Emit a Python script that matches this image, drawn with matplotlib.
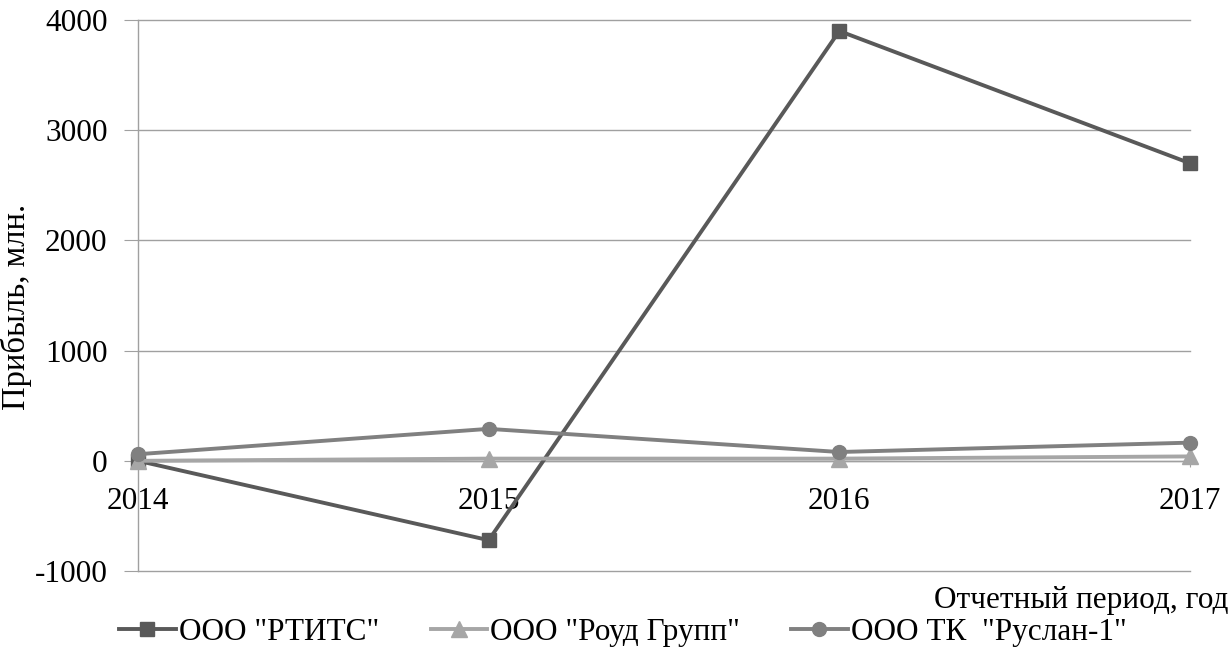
import matplotlib
matplotlib.use("Agg")
import matplotlib.pyplot as plt

# данные
years = [2014, 2015, 2016, 2017]
rtits = [0, -720, 3900, 2700]
road_group = [0, 20, 20, 40]
ruslan = [60, 290, 80, 165]
yticks = [-1000, 0, 1000, 2000, 3000, 4000]

plt.rcParams['font.family'] = ['Liberation Serif', 'DejaVu Serif']
fs = 22.5

fig = plt.figure(figsize=(12.31, 6.6), dpi=100)
ax = fig.add_axes([0.1121, 0.1348, 0.9667 - 0.1121, 0.9697 - 0.1348])

ax.plot(years, rtits, color='#595959', lw=2.8, marker='s', ms=10,
        label='ООО "РТИТС"', clip_on=False, zorder=3)
ax.plot(years, road_group, color='#a6a6a6', lw=2.8, marker='^', ms=12,
        label='ООО "Роуд Групп"', clip_on=False, zorder=4)
ax.plot(years, ruslan, color='#808080', lw=2.8, marker='o', ms=10,
        label='ООО ТК  "Руслан-1"', clip_on=False, zorder=5)

ax.spines['bottom'].set_position(('data', 0))

ax.set_xlim(years[0], years[-1])
ax.set_ylim(yticks[0], yticks[-1])
ax.set_xticks(years)
ax.set_xticklabels([str(y) for y in years])
ax.set_yticks(yticks)
ax.set_yticklabels([str(v) for v in yticks])

ax.grid(axis='y', color='#a0a0a0', lw=1.0)
for gl in ax.get_ygridlines():
    gl.set_clip_on(False)
ax.set_axisbelow(True)
for s in ['top', 'right']:
    ax.spines[s].set_visible(False)
ax.spines['bottom'].set_color('#a0a0a0')
ax.spines['bottom'].set_linewidth(1.0)
ax.spines['left'].set_color('#a0a0a0')
ax.spines['left'].set_linewidth(1.0)

ax.tick_params(axis='y', direction='out', length=10, color='#a0a0a0', pad=12,
               labelsize=fs)
ax.tick_params(axis='x', direction='inout', length=8, color='#a0a0a0', pad=15,
               labelsize=fs)

ax.set_ylabel('Прибыль, млн.', fontsize=23.5, va='center')
ax.yaxis.set_label_coords(-0.116, 0.479)
fig.text(0.998, 0.09, 'Отчетный период, год', fontsize=fs,
         ha='right', va='center')

ax.legend(loc='center', bbox_to_anchor=(0.506, 0.042), bbox_transform=fig.transFigure,
          ncol=3, frameon=False, fontsize=fs, handlelength=1.8,
          handletextpad=0.1, columnspacing=1.65)

fig.savefig('out.png', dpi=100)
